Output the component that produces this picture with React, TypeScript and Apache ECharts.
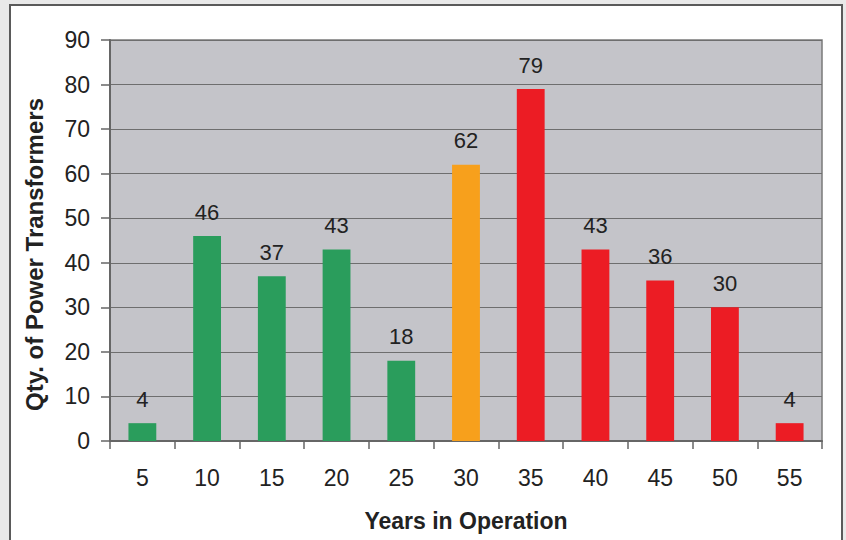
import React, { useEffect, useRef } from "react";
import * as echarts from "echarts";

const categories = ["5", "10", "15", "20", "25", "30", "35", "40", "45", "50", "55"];
const values = [4, 46, 37, 43, 18, 62, 79, 43, 36, 30, 4];
const colors = ["#2a9d5c", "#2a9d5c", "#2a9d5c", "#2a9d5c", "#2a9d5c", "#f7a01c", "#ec1c24", "#ec1c24", "#ec1c24", "#ec1c24", "#ec1c24"];

export default function App() {
  const ref = useRef<HTMLDivElement>(null);
  useEffect(() => {
    const chart = echarts.init(ref.current!, null, { renderer: "svg" });
    const font = "Liberation Sans, Arial, sans-serif";
    chart.setOption({
      animation: false,
      backgroundColor: "#e9e9e9",
      graphic: [
        {
          type: "rect",
          shape: { x: 10, y: 5, width: 832, height: 545 },
          style: { fill: "#ffffff", stroke: "#5a5a5a", lineWidth: 2 },
          z: -10,
        },
      ],
      grid: {
        left: 110, right: 24, top: 40, bottom: 99,
        outerBoundsMode: "none", containLabel: false,
        show: true, backgroundColor: "#c4c4c9", borderColor: "#7a7a7a", borderWidth: 1.5,
      },
      xAxis: {
        type: "category",
        data: categories,
        name: "Years in Operation",
        nameLocation: "middle",
        nameGap: 68,
        nameTextStyle: { fontFamily: font, fontSize: 23, fontWeight: "bold", color: "#222" },
        axisLine: { lineStyle: { color: "#666", width: 2 } },
        axisTick: { show: true, length: 8, lineStyle: { color: "#666", width: 1.5 } },
        axisLabel: { fontFamily: font, fontSize: 23, color: "#222", margin: 25 },
      },
      yAxis: {
        type: "value",
        min: 0,
        max: 90,
        interval: 10,
        name: "Qty. of Power Transformers",
        nameLocation: "middle",
        nameGap: 64,
        nameTextStyle: { fontFamily: font, fontSize: 24, fontWeight: "bold", color: "#222", padding: [0, 28, 0, 0] },
        axisLine: { show: true, lineStyle: { color: "#666", width: 2 } },
        axisTick: { show: true, length: 9, lineStyle: { color: "#666", width: 1.5 } },
        axisLabel: { fontFamily: font, fontSize: 23, color: "#222", margin: 20 },
        splitLine: { lineStyle: { color: "#6e6e6e", width: 1.2 } },
      },
      series: [
        {
          type: "bar",
          barWidth: "43%",
          data: values.map((v, i) => ({ value: v, itemStyle: { color: colors[i] } })),
          label: { show: true, position: "top", distance: 13, fontFamily: font, fontSize: 22, color: "#222" },
        },
      ],
    });
    return () => chart.dispose();
  }, []);
  return <div ref={ref} style={{ position: "fixed", left: 0, top: 0, width: 846, height: 540 }} />;
}
